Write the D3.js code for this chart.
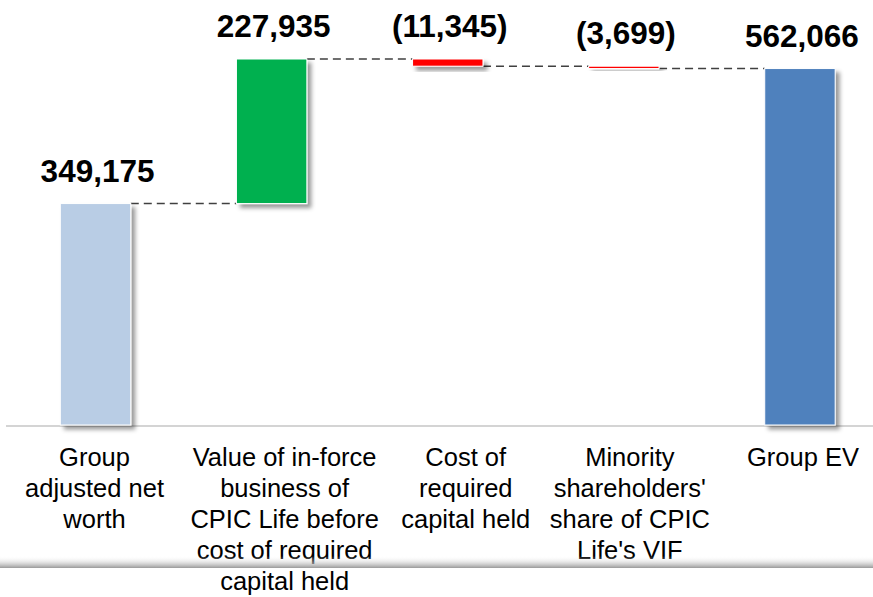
<!DOCTYPE html>
<html>
<head>
<meta charset="utf-8">
<script src="https://cdn.jsdelivr.net/npm/d3@7/dist/d3.min.js"></script>
<style>
  html, body { margin: 0; padding: 0; background: #fff; }
  svg { display: block; }
</style>
</head>
<body>
<div id="chart"></div>
<script>
// waterfall data
var categories = [
  ["Group", "adjusted net", "worth"],
  ["Value of in-force", "business of", "CPIC Life before", "cost of required", "capital held"],
  ["Cost of", "required", "capital held"],
  ["Minority", "shareholders'", "share of CPIC", "Life's VIF"],
  ["Group EV"]
];
var values = [349175, 227935, -11345, -3699, 562066];
var kinds = ["total", "delta", "delta", "delta", "total"];

var barColors = ["#B9CDE5", "#00B050", "#FF0000", "#FF0000", "#4F81BD"];
var labelShift = [-1, 13, 18, 6, 3]; // category text boxes are not centred on bars

var W = 873, H = 597;
var svg = d3.select("#chart").append("svg").attr("width", W).attr("height", H);

var defs = svg.append("defs");
defs.append("filter").attr("id", "shadow")
  .attr("x", "-20%").attr("y", "-20%").attr("width", "150%").attr("height", "200%")
  .append("feDropShadow")
  .attr("dx", 4).attr("dy", 4).attr("stdDeviation", 2.2)
  .attr("flood-color", "#000").attr("flood-opacity", 0.4);

var grad = defs.append("linearGradient").attr("id", "band").attr("x1", 0).attr("y1", 0).attr("x2", 0).attr("y2", 1);
grad.append("stop").attr("offset", "0%").attr("stop-color", "#fff").attr("stop-opacity", 0);
grad.append("stop").attr("offset", "100%").attr("stop-color", "#999").attr("stop-opacity", 1);

// running totals
var running = 0;
var bars = values.map(function(v, i) {
  var b = { i: i, value: v, kind: kinds[i], color: barColors[i], lines: categories[i] };
  if (kinds[i] === "total") { b.y0 = 0; b.y1 = v; running = v; }
  else { b.y0 = running; b.y1 = running + v; running += v; }
  b.lo = Math.min(b.y0, b.y1); b.hi = Math.max(b.y0, b.y1);
  return b;
});

var x = d3.scaleBand().domain(d3.range(values.length))
  .range([7.5, 888]).paddingInner(0.6).paddingOuter(0.3);
var y = d3.scaleLinear().domain([0, d3.max(bars, function(b) { return b.hi; })]).range([425, 59]);

var fmt = d3.format(",");
function label(v) { return v < 0 ? "(" + fmt(-v) + ")" : fmt(v); }

// baseline
svg.append("line")
  .attr("x1", 6).attr("x2", W).attr("y1", y(0) + 1).attr("y2", y(0) + 1)
  .attr("stroke", "#d4d4d4").attr("stroke-width", 2);

// connectors
for (var k = 0; k < bars.length - 1; k++) {
  var lvl = bars[k].y1;
  svg.append("line")
    .attr("x1", x(k) + x.bandwidth()).attr("x2", x(k + 1))
    .attr("y1", y(lvl)).attr("y2", y(lvl))
    .attr("stroke", "#404040").attr("stroke-width", 1.4)
    .attr("stroke-dasharray", "8,5");
}

// bars
svg.selectAll("rect.bar").data(bars).enter().append("rect")
  .attr("class", "bar")
  .attr("x", function(b) { return x(b.i); })
  .attr("width", x.bandwidth())
  .attr("y", function(b) { return y(b.hi); })
  .attr("height", function(b) { return Math.max(1.5, y(b.lo) - y(b.hi)); })
  .attr("fill", function(b) { return b.color; })
  .attr("stroke", "#fff").attr("stroke-width", 1)
  .attr("filter", "url(#shadow)");

// value labels
svg.selectAll("text.val").data(bars).enter().append("text")
  .attr("class", "val")
  .attr("x", function(b) { return x(b.i) + x.bandwidth() / 2 + 2; })
  .attr("y", function(b) { return y(b.hi) - 22; })
  .attr("text-anchor", "middle")
  .style("font-family", "'Liberation Sans', Arial, sans-serif")
  .style("font-weight", "bold")
  .style("font-size", "31.5px")
  .attr("fill", "#000")
  .text(function(b) { return label(b.value); });

// category labels
var cat = svg.selectAll("text.cat").data(bars).enter().append("text")
  .attr("class", "cat")
  .attr("text-anchor", "middle")
  .style("font-family", "'Liberation Sans', Arial, sans-serif")
  .style("font-size", "25.5px")
  .attr("fill", "#000");
cat.each(function(b) {
  var cx = x(b.i) + x.bandwidth() / 2 + labelShift[b.i];
  d3.select(this).selectAll("tspan").data(b.lines).enter().append("tspan")
    .attr("x", cx)
    .attr("y", function(d, j) { return 466 + j * 31; })
    .text(function(d) { return d; });
});

// grey band near bottom
svg.append("rect")
  .attr("x", 0).attr("y", 556).attr("width", W).attr("height", 12)
  .attr("fill", "url(#band)");
</script>
</body>
</html>
